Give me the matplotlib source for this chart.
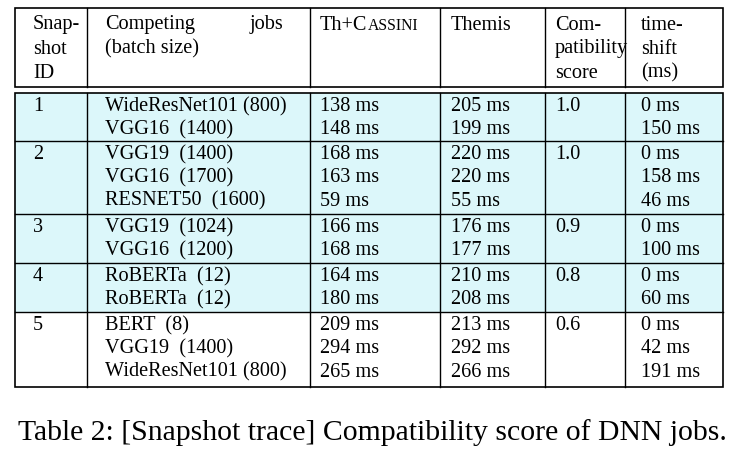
import matplotlib
matplotlib.use("Agg")
import matplotlib.pyplot as plt
from matplotlib.patches import Rectangle

ids = ["1", "2", "3", "4", "5"]
jobs = [["WideResNet101 (800)", "VGG16  (1400)"],
        ["VGG19  (1400)", "VGG16  (1700)", "RESNET50  (1600)"],
        ["VGG19  (1024)", "VGG16  (1200)"],
        ["RoBERTa  (12)", "RoBERTa  (12)"],
        ["BERT  (8)", "VGG19  (1400)", "WideResNet101 (800)"]]
cassini = [["138 ms", "148 ms"], ["168 ms", "163 ms", "59 ms"], ["166 ms", "168 ms"],
           ["164 ms", "180 ms"], ["209 ms", "294 ms", "265 ms"]]
themis = [["205 ms", "199 ms"], ["220 ms", "220 ms", "55 ms"], ["176 ms", "177 ms"],
          ["210 ms", "208 ms"], ["213 ms", "292 ms", "266 ms"]]
scores = ["1.0", "1.0", "0.9", "0.8", "0.6"]
shifts = [["0 ms", "150 ms"], ["0 ms", "158 ms", "46 ms"], ["0 ms", "100 ms"],
          ["0 ms", "60 ms"], ["0 ms", "42 ms", "191 ms"]]
caption = "Table 2: [Snapshot trace] Compatibility score of DNN jobs."

plt.rcParams['font.family'] = ['Liberation Serif', 'DejaVu Serif']
fig = plt.figure(figsize=(7.48, 4.57), dpi=100)
ax = fig.add_axes([0, 0, 1, 1])
ax.set_xlim(0, 748); ax.set_ylim(457, 0); ax.axis('off')

L, R = 15, 723
vcols = [87, 310, 440, 545, 625]
fs = 14.6
ax.add_patch(Rectangle((L, 8), R - L, 79, fill=False, lw=1.2, ec='black'))
for x in vcols:
    ax.plot([x, x], [8, 87], color='black', lw=1)
hdr = [(33, ["Snap-", "shot", "ID"]), (105, ["Competing", "(batch size)"]),
       (451, ["Themis"]), (555, ["Com-", "patibility", "score"]), (641, ["time-", "shift", "(ms)"])]
hy = [25, 49, 73]
for x, lines in hdr:
    for i, t in enumerate(lines):
        ax.text(x, hy[i], t, fontsize=fs, va='center', ha='left')
ax.text(283, 25, "jobs", fontsize=fs, va='center', ha='right')
t1 = ax.text(320, 25, "Th+C", fontsize=fs, va='center', ha='left')
fig.canvas.draw()
bb = t1.get_window_extent()
ax.text(bb.x1 + 0.5, 25.8, "ASSINI", fontsize=fs * 0.78, va='center', ha='left')

top = 93
rowh = 23.4
y = top
xs = [38, 105, 320, 451, 555, 641]
for g in range(5):
    n = len(jobs[g])
    h = [48, 73, 49, 49, 75][g]
    if g < 4:
        ax.add_patch(Rectangle((L, y), R - L, h, color='#dcf7fa', lw=0, zorder=0))
    for i in range(n):
        cy = y + 13.5 + i * rowh
        ax.text(xs[1], cy, jobs[g][i], fontsize=fs, va='center')
        ax.text(xs[2], cy, cassini[g][i], fontsize=fs, va='center')
        ax.text(xs[3], cy, themis[g][i], fontsize=fs, va='center')
        ax.text(xs[5], cy, shifts[g][i], fontsize=fs, va='center')
    ax.text(xs[0], y + 13.5, ids[g], fontsize=fs, va='center', ha='center')
    ax.text(xs[4], y + 13.5, scores[g], fontsize=fs, va='center')
    y += h
    if g < 4:
        ax.plot([L, R], [y, y], color='black', lw=1)
ax.add_patch(Rectangle((L, top), R - L, y - top, fill=False, lw=1.2, ec='black'))
for x in vcols:
    ax.plot([x, x], [top, y], color='black', lw=1)

ax.text(18, 433, caption, fontsize=21.4, va='center', ha='left')
fig.savefig("out.png", dpi=100)
